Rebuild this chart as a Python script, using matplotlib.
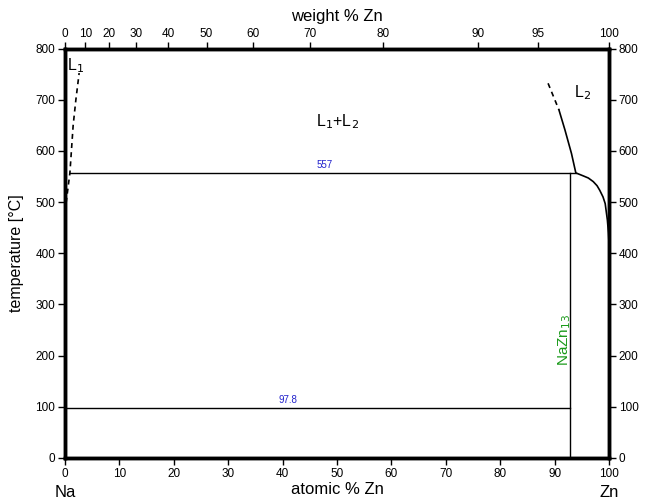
import numpy as np
import matplotlib.pyplot as plt

plt.rcParams['font.family'] = ['Liberation Sans', 'DejaVu Sans']

# liquidus L1 (Na-rich side, dashed)
l1_x = [0.0, 0.2, 0.9, 1.5, 2.0, 2.6]
l1_t = [445, 498, 557, 650, 700, 752]
# liquidus L2 (Zn-rich side): dashed upper part, then solid
l2_dash_x = [88.8, 89.8, 90.8]
l2_dash_t = [732, 706, 680]
l2_x = [90.8, 91.9, 93.1, 93.9, 94.6, 95.3, 96.2, 97.1, 97.8, 98.3,
        98.9, 99.3, 99.7, 99.9, 100.0]
l2_t = [680, 641, 595, 557, 554, 551, 547, 540, 532, 523,
        510, 497, 465, 440, 420]
# invariants
mono_t = 557
mono_x = [0.9, 93.9]
eut_t = 97.8
eut_x = [0.0, 92.86]
compound_x = 92.86

wt_ticks = [0, 10, 20, 30, 40, 50, 60, 70, 80, 90, 95, 100]
M_NA, M_ZN = 22.99, 65.38


def wt_to_at(w):
    w = np.asarray(w, dtype=float)
    a = w / M_ZN
    b = (100 - w) / M_NA
    return 100 * a / (a + b)


fig = plt.figure(figsize=(6.48, 5.0), dpi=100)
ax = fig.add_axes([65 / 648, 42 / 500, 544 / 648, 409.5 / 500])

lw = 1.2
dash = (0, (3, 2.5))
ax.plot(l1_x, l1_t, color='black', lw=lw, ls=dash)
ax.plot(l2_dash_x, l2_dash_t, color='black', lw=lw, ls=dash)
ax.plot(l2_x, l2_t, color='black', lw=lw)
ax.plot(mono_x, [mono_t, mono_t], color='black', lw=1)
ax.plot(eut_x, [eut_t, eut_t], color='black', lw=1)
ax.plot([compound_x, compound_x], [0, mono_t], color='black', lw=1)

ax.text(47.8, mono_t + 5, '557', color='#2222cc', fontsize=7, ha='center', va='bottom')
ax.text(41.0, eut_t + 5, '97.8', color='#2222cc', fontsize=7, ha='center', va='bottom')
ax.text(91.9, 230, 'NaZn$_{13}$', color='#1a9a1a', fontsize=11, rotation=90,
        ha='center', va='center')
ax.text(0.4, 767, 'L$_1$', fontsize=11.5, ha='left', va='center')
ax.text(93.6, 713, 'L$_2$', fontsize=11.5, ha='left', va='center')
ax.text(50.1, 657, 'L$_1$+L$_2$', fontsize=11.5, ha='center', va='center')

ax.set_xlim(0, 100)
ax.set_ylim(0, 800)
ax.set_xticks(np.arange(0, 101, 10))
ax.set_yticks(np.arange(0, 801, 100))
ax.tick_params(direction='out', length=5, width=1, labelsize=8.5, pad=2,
               right=True, labelright=True)
for s in ax.spines.values():
    s.set_linewidth(2.5)
ax.set_ylabel('temperature [°C]', fontsize=11.5, labelpad=8)
ax.set_xlabel('atomic % Zn', fontsize=12, labelpad=2)

ax.text(0, -0.065, 'Na', transform=ax.get_xaxis_transform(), fontsize=12,
        ha='center', va='top')
ax.text(100, -0.065, 'Zn', transform=ax.get_xaxis_transform(), fontsize=12,
        ha='center', va='top')

top = ax.twiny()
top.set_xlim(0, 100)
top.set_xticks(wt_to_at(wt_ticks))
top.set_xticklabels([str(w) for w in wt_ticks])
top.tick_params(direction='out', length=5, width=1, labelsize=8.5, pad=1)
top.set_xlabel('weight % Zn', fontsize=12, labelpad=5)
for s in top.spines.values():
    s.set_linewidth(2.5)

fig.savefig('out.png', dpi=100)
